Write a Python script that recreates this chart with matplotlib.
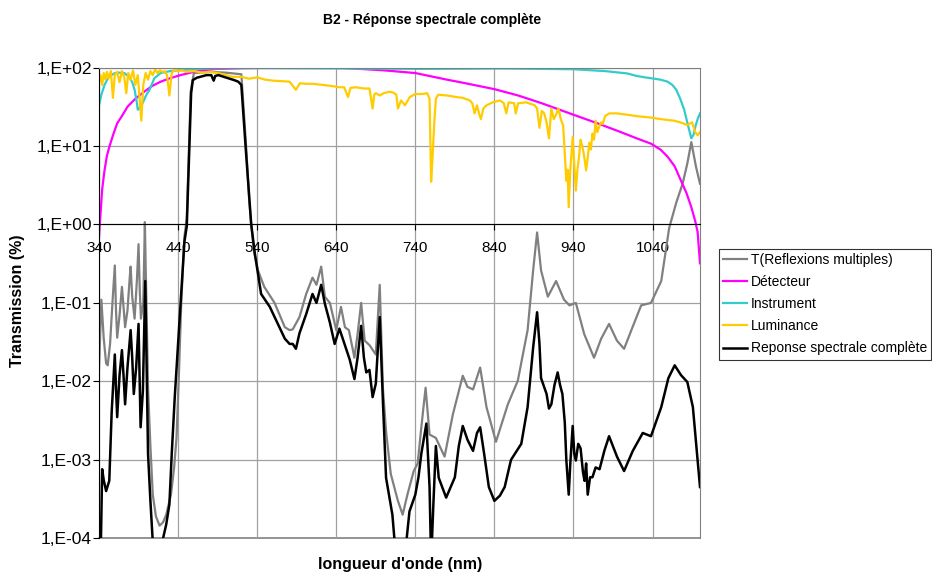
import numpy as np
import matplotlib.pyplot as plt
from matplotlib.ticker import FixedLocator, FixedFormatter, NullLocator

plt.rcParams['font.family'] = ['Liberation Sans', 'DejaVu Sans']

# --- data (wavelength in nm, transmission in %) ---
t_wl = [340, 343, 346, 349, 351, 354, 357, 360, 361.5, 363, 366, 369, 371, 373, 376, 379, 380,
        382, 385, 388, 390, 391.5, 393, 396, 398, 399, 400, 402, 405, 408, 412, 416.6, 421, 425,
        431, 435, 438, 441, 444, 448, 451, 456, 460, 480, 500, 520, 526, 530, 532.5, 536, 541,
        549, 562, 575, 581, 585, 593.5, 602, 610, 615, 621, 625.6, 632, 640, 646, 651, 656, 663,
        667, 671.5, 676, 682, 690, 695, 699, 703, 709, 718, 724, 730, 738, 743, 747.6, 753, 758,
        766, 777, 787.5, 800, 806, 813, 822, 830, 842, 857, 869.6, 882, 889, 894, 899, 907.6,
        918, 928, 935, 943, 953.6, 966, 975, 985, 995, 1004, 1015, 1025.6, 1038, 1051, 1061,
        1070, 1078, 1084, 1089, 1095, 1100]
t_val = [0.014, 0.11, 0.035, 0.017, 0.016, 0.03, 0.10, 0.30, 0.08, 0.036, 0.07, 0.16, 0.09,
         0.049, 0.08, 0.22, 0.29, 0.12, 0.063, 0.2, 0.56, 0.15, 0.063, 0.1, 1.07, 0.3, 0.1,
         0.0083, 0.0015, 3.6e-4, 1.9e-4, 1.45e-4, 1.6e-4, 2.0e-4, 3.6e-4, 8e-4, 1.9e-3, 0.012,
         0.098, 0.7, 1.2, 50, 85, 88, 86, 82, 10, 2, 1.0, 0.45, 0.26, 0.16, 0.10, 0.049, 0.045,
         0.046, 0.066, 0.13, 0.21, 0.17, 0.29, 0.12, 0.10, 0.045, 0.089, 0.049, 0.045, 0.020,
         0.04, 0.10, 0.033, 0.029, 0.022, 0.17, 0.0083, 0.0023, 6.6e-4, 3.0e-4, 2.0e-4, 3.6e-4,
         7.2e-4, 9e-4, 2.6e-3, 8.3e-3, 2.1e-3, 1.9e-3, 1.1e-3, 3.8e-3, 0.0118, 0.0085, 0.0079,
         0.015, 4.7e-3, 1.7e-3, 5.1e-3, 0.0102, 0.045, 0.26, 0.79, 0.26, 0.12, 0.19, 0.11,
         0.093, 0.10, 0.040, 0.020, 0.035, 0.054, 0.033, 0.026, 0.05, 0.093, 0.10, 0.19, 0.9,
         1.9, 3.3, 6, 11.2, 5.4, 3.3]

det_wl = [340, 341, 342, 344, 347, 350, 353, 358, 363, 370, 376, 386, 397, 407, 418, 430, 443,
          458, 473, 490, 520, 560, 600, 640, 670, 700, 740, 780, 800, 840, 870, 900, 940, 970,
          1000, 1020, 1038, 1050, 1059, 1068, 1076, 1083, 1089, 1094, 1097, 1100]
det_val = [0.68, 1.0, 1.4, 2.8, 4.9, 7.5, 9.7, 14, 19.4, 25, 31.6, 40, 49, 58, 66, 73, 80, 87,
           93, 96, 98, 99.5, 100, 100, 96, 92, 85, 70, 64, 53, 44, 35, 25, 19.5, 15, 12.5,
           10.7, 9, 7.3, 5.5, 3.6, 2.5, 1.66, 1.1, 0.8, 0.32]

ins_wl = [340, 343, 347, 352, 359, 365, 372, 378, 382, 385, 388, 389, 391, 395, 400, 404, 410,
          418, 430, 440, 460, 480, 500, 550, 650, 750, 850, 900, 940, 980, 1008, 1020, 1030,
          1038, 1050, 1059, 1065, 1070, 1075, 1080, 1085, 1089, 1092, 1094, 1097, 1100]
ins_val = [33, 45, 60, 75, 84, 86, 85, 76, 65, 52, 35, 29, 30, 35, 45, 52, 73, 85, 90, 92, 95,
           97, 98, 98, 97, 96, 97, 96, 95, 90, 84, 78, 75, 73, 70, 66, 60, 52, 40, 29, 18,
           12.5, 14, 17.5, 22, 26]

lum_wl = [340, 342, 344, 346, 348, 350, 352, 355, 357.6, 360, 363, 366, 369, 372, 374.5, 377,
          380, 383, 386, 389, 391, 393.5, 396, 399, 402, 405, 408, 411, 414, 417, 420, 423, 426,
          429, 432, 435, 440, 445, 450, 460, 470, 480, 490, 500, 509, 520, 530, 540, 550, 560,
          570, 581, 589, 594, 602, 610, 623, 635, 644, 650, 655, 658, 665, 675, 682, 686, 688,
          690, 695, 700, 707, 712, 716, 718, 722, 727, 733, 740, 749, 755, 758, 760, 762, 764,
          766, 769, 780, 792, 800, 809, 812, 815, 818, 821, 823, 826, 830, 838, 847, 852, 855,
          858, 865, 867, 870, 880, 891, 894, 897, 900, 903, 906, 909, 912, 915, 918, 921, 924,
          927, 929, 931, 932.5, 934, 936, 939, 941, 943, 945, 947, 949, 951, 953, 956, 958, 960,
          962, 964, 966, 968, 970, 972, 975, 977, 980, 985, 995, 1008, 1020, 1038, 1050, 1067,
          1075, 1084, 1090, 1094, 1097, 1100]
lum_val = [66, 80, 60, 85, 70, 88, 72, 90, 41, 80, 88, 65, 90, 75, 47, 85, 70, 92, 60, 80, 45,
           21, 60, 85, 70, 90, 80, 95, 85, 92, 88, 90, 80, 44, 85, 93, 90, 92, 88, 90, 86, 88,
           85, 80, 76, 76, 72, 75, 70, 68, 67, 66, 52, 63, 62, 62, 60, 58, 56, 56, 42, 55, 56,
           54, 54, 30, 45, 47, 44, 47, 49, 48, 45, 30, 38, 33, 42, 46, 46, 47, 40, 3.5, 8, 20,
           40, 45, 44, 42, 41, 38, 35, 26, 33, 25, 22, 30, 33, 36, 38, 35, 26, 36, 35, 26, 35,
           36, 33, 30, 17, 28, 26, 20, 12.5, 30, 22, 25, 30, 22, 18, 8, 3.6, 5, 1.66, 5, 13, 6,
           2.7, 5, 7.3, 12, 10, 8, 4.9, 7, 11, 9, 14.4, 12, 21, 15, 17, 20, 19, 24, 26, 26, 25,
           24, 23, 22, 21, 20, 18.5, 20, 15, 13.7, 15]

rep_wl = [340, 342, 344, 346, 349, 353, 356, 360, 361.5, 363, 366, 369, 371, 373, 376, 380, 382,
          384, 387, 390, 391.5, 392.6, 395.5, 398.5, 400, 402, 405, 408, 416, 421, 425, 429, 432,
          435.8, 440, 444, 448, 451, 456.5, 458.6, 463.6, 470, 476, 482, 485, 487, 491, 498, 505,
          511, 516, 520, 526, 532.5, 537, 545, 556, 564, 575, 581, 585, 589, 593.5, 602, 610,
          615, 621, 625.6, 632, 638, 644, 651, 657, 663, 667, 671.5, 675, 678, 682, 686, 690,
          695, 699, 703, 711, 716, 726, 732.6, 740, 744, 747.6, 754, 758, 760, 763, 766, 769.6,
          779, 790, 795, 800, 806, 813, 818, 822, 827, 833, 840, 847, 853, 861, 874, 882, 889,
          894, 897, 899, 906, 909, 912, 916, 920, 923, 926, 929, 931, 934, 936, 939, 941, 943,
          946, 949, 952, 954, 956, 958, 961, 964, 968, 973, 979, 985, 995, 1004, 1015, 1027.6,
          1038, 1051, 1060, 1068, 1076, 1084, 1091, 1100]
rep_val = [5e-5, 5e-5, 7.6e-4, 5.5e-4, 4.0e-4, 5.4e-4, 4e-3, 0.022, 0.008, 3.5e-3, 0.012, 0.025,
           0.012, 5.1e-3, 0.015, 0.045, 0.02, 6.9e-3, 0.015, 0.054, 0.01, 2.6e-3, 7.6e-3, 0.19,
           0.02, 1.2e-3, 3e-4, 9e-5, 5e-5, 1e-4, 1.5e-4, 2.7e-4, 1.2e-3, 6.3e-3, 0.03, 0.13,
           0.6, 0.95, 47, 69, 74, 77, 80, 80, 68, 78, 80, 76, 72, 69, 66, 60, 8, 1.0, 0.43, 0.13,
           0.089, 0.060, 0.035, 0.030, 0.030, 0.026, 0.041, 0.072, 0.13, 0.10, 0.17, 0.098,
           0.056, 0.030, 0.047, 0.029, 0.019, 0.0107, 0.02, 0.051, 0.02, 0.013, 0.014, 6.3e-3,
           9.3e-3, 0.066, 5.6e-3, 5.9e-4, 2.0e-4, 5e-5, 5e-5, 2.2e-4, 3.6e-4, 6e-4, 1.2e-3,
           2.9e-3, 4.5e-4, 5e-5, 3e-4, 1.5e-3, 5.9e-4, 3.3e-4, 6e-4, 1.5e-3, 2.7e-3, 1.8e-3,
           1.3e-3, 2.2e-3, 2.6e-3, 1.2e-3, 4.5e-4, 3e-4, 3.5e-4, 4.5e-4, 1.0e-3, 1.6e-3, 4.7e-3,
           0.027, 0.076, 0.03, 0.011, 6.9e-3, 4.5e-3, 5.1e-3, 9e-3, 0.013, 0.009, 6.9e-3, 3e-3,
           9.8e-4, 3.6e-4, 9e-4, 2.7e-3, 1.2e-3, 9.8e-4, 1.6e-3, 1.4e-3, 7e-4, 5.4e-4, 9e-4,
           3.6e-4, 6e-4, 6e-4, 8e-4, 7.6e-4, 1.3e-3, 2.0e-3, 1.1e-3, 7.2e-4, 1.3e-3, 2.2e-3,
           2.0e-3, 4.7e-3, 0.011, 0.016, 0.012, 9.8e-3, 4.7e-3, 4.5e-4]

series_names = ["T(Reflexions multiples)", "Détecteur", "Instrument", "Luminance",
                "Reponse spectrale complète"]
xticks = [340, 440, 540, 640, 740, 840, 940, 1040]
yticks = [1e-4, 1e-3, 1e-2, 1e-1, 1e0, 1e1, 1e2]
ytick_labels = ["1,E-04", "1,E-03", "1,E-02", "1,E-01", "1,E+00", "1,E+01", "1,E+02"]

fig = plt.figure(figsize=(9.32, 5.74), dpi=100)
ax = fig.add_axes([99 / 932, 1 - 538.3 / 574, 601 / 932, 470.8 / 574])

ax.plot(t_wl, t_val, color="#808080", lw=1.6, label=series_names[0])
ax.plot(det_wl, det_val, color="#FF00FF", lw=1.6, label=series_names[1])
ax.plot(ins_wl, ins_val, color="#33CCCC", lw=1.6, label=series_names[2])
ax.plot(lum_wl, lum_val, color="#FFCC00", lw=1.6, label=series_names[3])
ax.plot(rep_wl, rep_val, color="black", lw=1.8, label=series_names[4])

ax.set_yscale("log")
ax.set_xlim(340, 1100)
ax.set_ylim(1e-4, 1e2)
ax.yaxis.set_major_locator(FixedLocator(yticks))
ax.yaxis.set_major_formatter(FixedFormatter(ytick_labels))
ax.yaxis.set_minor_locator(NullLocator())
ax.set_xticks(xticks)
ax.set_xticklabels([str(v) for v in xticks])

ax.grid(True, color="#a0a0a0", lw=0.9)
ax.set_axisbelow(True)
ax.spines["bottom"].set_position(("data", 1))
ax.spines["bottom"].set_color("black")
ax.spines["left"].set_color("black")
ax.spines["top"].set_color("#808080")
ax.spines["right"].set_color("#808080")
ax.axhline(1e-4, color="#808080", lw=1.2, clip_on=False, zorder=0)
ax.tick_params(axis="x", direction="out", length=4, pad=8, labelsize=11)
ax.tick_params(axis="y", direction="out", length=4, pad=1, labelsize=12.5)

fig.text(432 / 932, 1 - 20 / 574, "B2 - Réponse spectrale complète", ha="center", va="center",
         fontsize=10, fontweight="bold")
fig.text(18 / 932, 1 - 301 / 574, "Transmission (%)", rotation=90, ha="center", va="center",
         fontsize=11.5, fontweight="bold")
fig.text(400 / 932, 1 - 565 / 574, "longueur d'onde (nm)", ha="center", va="center",
         fontsize=11.5, fontweight="bold")

leg = fig.legend(loc="upper left", bbox_to_anchor=(719 / 932, 1 - 249 / 574), fontsize=10,
                 frameon=True, fancybox=False, edgecolor="black", borderaxespad=0,
                 borderpad=0.3, labelspacing=0.58, handlelength=1.7, handletextpad=0.3)
leg.get_frame().set_linewidth(0.8)

fig.savefig("out.png", dpi=100)
